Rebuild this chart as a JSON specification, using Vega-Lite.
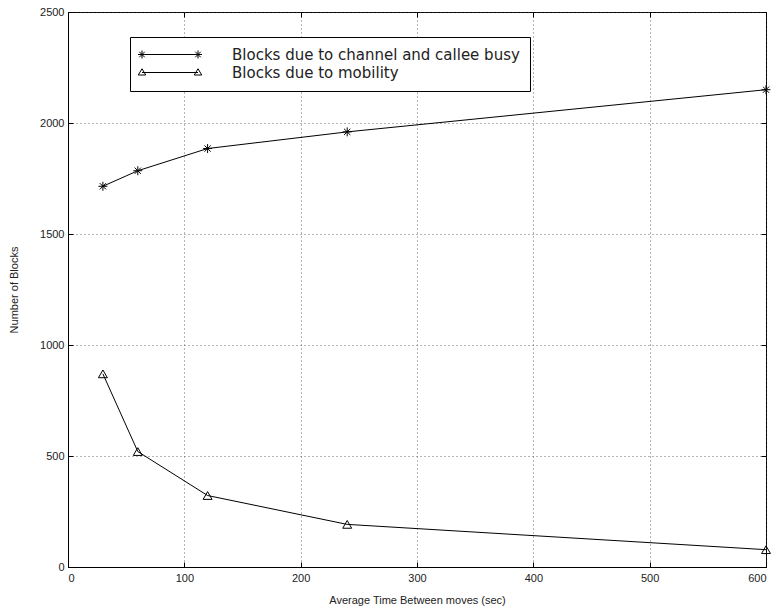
{
  "$schema": "https://vega.github.io/schema/vega-lite/v6.json",
  "width": 698,
  "height": 555,
  "autosize": {"type": "none"},
  "padding": {"left": 68, "top": 12, "right": 17, "bottom": 45},
  "background": "white",
  "config": {
    "view": {"stroke": "black", "strokeWidth": 1},
    "font": "Liberation Sans",
    "axis": {
      "labelFont": "Liberation Sans",
      "labelFontSize": 11,
      "labelColor": "#222",
      "titleFont": "Liberation Sans",
      "titleFontSize": 11,
      "titleFontWeight": "normal",
      "titleColor": "#222",
      "domainColor": "black",
      "tickColor": "black",
      "tickSize": -5,
      "gridColor": "#444",
      "gridDash": [1, 3],
      "gridOpacity": 0.8
    }
  },
  "data": {
    "values": [
      {"t": 30, "blocks": 1715, "series": "Blocks due to channel and callee busy", "marker": "star"},
      {"t": 60, "blocks": 1785, "series": "Blocks due to channel and callee busy", "marker": "star"},
      {"t": 120, "blocks": 1885, "series": "Blocks due to channel and callee busy", "marker": "star"},
      {"t": 240, "blocks": 1960, "series": "Blocks due to channel and callee busy", "marker": "star"},
      {"t": 600, "blocks": 2150, "series": "Blocks due to channel and callee busy", "marker": "star"},
      {"t": 30, "blocks": 870, "series": "Blocks due to mobility", "marker": "triangle"},
      {"t": 60, "blocks": 520, "series": "Blocks due to mobility", "marker": "triangle"},
      {"t": 120, "blocks": 322, "series": "Blocks due to mobility", "marker": "triangle"},
      {"t": 240, "blocks": 192, "series": "Blocks due to mobility", "marker": "triangle"},
      {"t": 600, "blocks": 78, "series": "Blocks due to mobility", "marker": "triangle"}
    ]
  },
  "resolve": {"axis": {"x": "independent", "y": "independent"}},
  "layer": [
    {
      "mark": {"type": "line", "strokeWidth": 1},
      "encoding": {
        "x": {
          "field": "t", "type": "quantitative",
          "scale": {"domain": [0, 600], "nice": false},
          "axis": {"values": [0, 100, 200, 300, 400, 500, 600], "format": "d", "title": "Average Time Between moves (sec)", "titlePadding": 11, "labelPadding": 10}
        },
        "y": {
          "field": "blocks", "type": "quantitative",
          "scale": {"domain": [0, 2500], "nice": false},
          "axis": {"values": [0, 500, 1000, 1500, 2000, 2500], "format": "d", "title": "Number of Blocks", "titlePadding": 20, "labelPadding": 9}
        },
        "color": {
          "field": "series", "type": "nominal",
          "scale": {"domain": ["Blocks due to channel and callee busy", "Blocks due to mobility"], "range": ["black", "black"]},
          "legend": {
            "title": null,
            "orient": "none",
            "legendX": 62,
            "legendY": 25,
            "strokeColor": "black",
            "fillColor": "white",
            "padding": 10,
            "symbolSize": 100,
            "symbolStrokeWidth": 1,
            "symbolStrokeColor": "black",
            "symbolFillColor": "white",
            "labelFont": "DejaVu Sans",
            "labelFontSize": 15,
            "labelColor": "#222",
            "labelOffset": 77,
            "labelLimit": 600,
            "rowPadding": 2,
            "encode": {
              "symbols": {
                "update": {
                  "shape": {"signal": "datum.value == 'Blocks due to mobility' ? 'M-1.1,0L10.1,0M-1.85,0.5L-1.1,-0.75L-0.35,0.5ZM9.35,0.5L10.1,-0.75L10.85,0.5Z' : 'M-1.1,0L10.1,0M-1.1,-0.8L-1.1,0.8M-1.9,0L-0.3,0M-1.65,-0.55L-0.55,0.55M-1.65,0.55L-0.55,-0.55M10.1,-0.8L10.1,0.8M9.3,0L10.9,0M9.55,-0.55L10.65,0.55M9.55,0.55L10.65,-0.55'"},
                  "stroke": {"value": "black"},
                  "fill": {"value": "white"}
                }
              }
            }
          }
        }
      }
    },
    {
      "mark": {"type": "point", "filled": false, "stroke": "black", "strokeWidth": 1, "size": 80, "opacity": 1},
      "encoding": {
        "x": {"field": "t", "type": "quantitative", "axis": {"orient": "top", "values": [0, 100, 200, 300, 400, 500, 600], "labels": false, "grid": false, "domain": false, "title": null}},
        "y": {"field": "blocks", "type": "quantitative", "axis": {"orient": "right", "values": [0, 500, 1000, 1500, 2000, 2500], "labels": false, "grid": false, "domain": false, "title": null}},
        "shape": {
          "field": "marker", "type": "nominal",
          "scale": {"domain": ["star", "triangle"], "range": ["M0,-1L0,1M-1,0L1,0M-0.7,-0.7L0.7,0.7M-0.7,0.7L0.7,-0.7", "triangle-up"]},
          "legend": null
        }
      }
    }
  ]
}
